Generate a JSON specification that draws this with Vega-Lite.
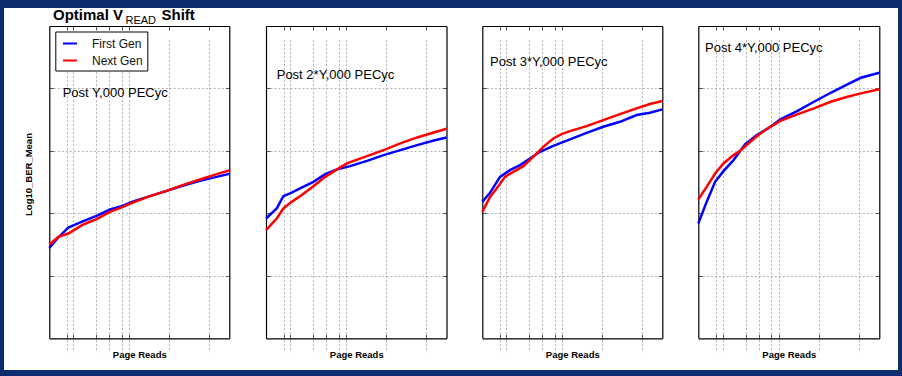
{
  "$schema": "https://vega.github.io/schema/vega-lite/v6.json",
  "background": "#0b2d70",
  "padding": {"left": 4, "top": 8, "right": 4, "bottom": 6},
  "spacing": 0,
  "config": {
    "view": {"fill": "#ffffff", "stroke": null},
    "font": "Liberation Sans",
    "legend": {"strokeColor": "#000000", "fillColor": "#ffffff", "strokeWidth": 1},
    "axis": {
      "labels": false,
      "domainColor": "#000000",
      "domainWidth": 1.2,
      "tickColor": "#555555",
      "tickSize": -4,
      "tickWidth": 1,
      "gridColor": "#b3b3b3",
      "gridDash": [2, 2],
      "gridWidth": 1,
      "minExtent": 0,
      "titleFont": "Liberation Sans",
      "titleFontWeight": "bold",
      "titleFontSize": 9.5,
      "titleColor": "#000000"
    }
  },
  "datasets": {
    "curves": [
      {"panel": 1, "series": "First Gen", "reads": 10, "ber": -5.553},
      {"panel": 1, "series": "First Gen", "reads": 16.8, "ber": -5.386},
      {"panel": 1, "series": "First Gen", "reads": 29.9, "ber": -5.226},
      {"panel": 1, "series": "First Gen", "reads": 70.8, "ber": -5.125},
      {"panel": 1, "series": "First Gen", "reads": 152, "ber": -5.04},
      {"panel": 1, "series": "First Gen", "reads": 329, "ber": -4.938},
      {"panel": 1, "series": "First Gen", "reads": 642, "ber": -4.885},
      {"panel": 1, "series": "First Gen", "reads": 1259, "ber": -4.809},
      {"panel": 1, "series": "First Gen", "reads": 3293, "ber": -4.724},
      {"panel": 1, "series": "First Gen", "reads": 8561, "ber": -4.639},
      {"panel": 1, "series": "First Gen", "reads": 22387, "ber": -4.553},
      {"panel": 1, "series": "First Gen", "reads": 58546, "ber": -4.479},
      {"panel": 1, "series": "First Gen", "reads": 152229, "ber": -4.415},
      {"panel": 1, "series": "First Gen", "reads": 316228, "ber": -4.367},
      {"panel": 1, "series": "Next Gen", "reads": 10, "ber": -5.498},
      {"panel": 1, "series": "Next Gen", "reads": 16.8, "ber": -5.377},
      {"panel": 1, "series": "Next Gen", "reads": 29.9, "ber": -5.322},
      {"panel": 1, "series": "Next Gen", "reads": 70.8, "ber": -5.178},
      {"panel": 1, "series": "Next Gen", "reads": 152, "ber": -5.093},
      {"panel": 1, "series": "Next Gen", "reads": 329, "ber": -4.976},
      {"panel": 1, "series": "Next Gen", "reads": 642, "ber": -4.905},
      {"panel": 1, "series": "Next Gen", "reads": 1259, "ber": -4.825},
      {"panel": 1, "series": "Next Gen", "reads": 3293, "ber": -4.724},
      {"panel": 1, "series": "Next Gen", "reads": 8561, "ber": -4.639},
      {"panel": 1, "series": "Next Gen", "reads": 22387, "ber": -4.543},
      {"panel": 1, "series": "Next Gen", "reads": 58546, "ber": -4.457},
      {"panel": 1, "series": "Next Gen", "reads": 152229, "ber": -4.372},
      {"panel": 1, "series": "Next Gen", "reads": 316228, "ber": -4.313},

      {"panel": 2, "series": "First Gen", "reads": 10, "ber": -5.082},
      {"panel": 2, "series": "First Gen", "reads": 18.5, "ber": -4.921},
      {"panel": 2, "series": "First Gen", "reads": 27.1, "ber": -4.724},
      {"panel": 2, "series": "First Gen", "reads": 39.8, "ber": -4.681},
      {"panel": 2, "series": "First Gen", "reads": 70.8, "ber": -4.601},
      {"panel": 2, "series": "First Gen", "reads": 152, "ber": -4.495},
      {"panel": 2, "series": "First Gen", "reads": 299, "ber": -4.372},
      {"panel": 2, "series": "First Gen", "reads": 586, "ber": -4.296},
      {"panel": 2, "series": "First Gen", "reads": 1259, "ber": -4.244},
      {"panel": 2, "series": "First Gen", "reads": 3293, "ber": -4.159},
      {"panel": 2, "series": "First Gen", "reads": 8561, "ber": -4.067},
      {"panel": 2, "series": "First Gen", "reads": 22387, "ber": -3.987},
      {"panel": 2, "series": "First Gen", "reads": 58546, "ber": -3.907},
      {"panel": 2, "series": "First Gen", "reads": 152229, "ber": -3.832},
      {"panel": 2, "series": "First Gen", "reads": 316228, "ber": -3.784},
      {"panel": 2, "series": "Next Gen", "reads": 10, "ber": -5.269},
      {"panel": 2, "series": "Next Gen", "reads": 18.5, "ber": -5.082},
      {"panel": 2, "series": "Next Gen", "reads": 27.1, "ber": -4.921},
      {"panel": 2, "series": "Next Gen", "reads": 39.8, "ber": -4.832},
      {"panel": 2, "series": "Next Gen", "reads": 70.8, "ber": -4.724},
      {"panel": 2, "series": "Next Gen", "reads": 152, "ber": -4.564},
      {"panel": 2, "series": "Next Gen", "reads": 299, "ber": -4.415},
      {"panel": 2, "series": "Next Gen", "reads": 586, "ber": -4.296},
      {"panel": 2, "series": "Next Gen", "reads": 1041, "ber": -4.2},
      {"panel": 2, "series": "Next Gen", "reads": 3293, "ber": -4.083},
      {"panel": 2, "series": "Next Gen", "reads": 8561, "ber": -3.987},
      {"panel": 2, "series": "Next Gen", "reads": 22387, "ber": -3.88},
      {"panel": 2, "series": "Next Gen", "reads": 58546, "ber": -3.784},
      {"panel": 2, "series": "Next Gen", "reads": 152229, "ber": -3.704},
      {"panel": 2, "series": "Next Gen", "reads": 316228, "ber": -3.646},

      {"panel": 3, "series": "First Gen", "reads": 10, "ber": -4.816},
      {"panel": 3, "series": "First Gen", "reads": 15.6, "ber": -4.671},
      {"panel": 3, "series": "First Gen", "reads": 27.7, "ber": -4.415},
      {"panel": 3, "series": "First Gen", "reads": 49.3, "ber": -4.308},
      {"panel": 3, "series": "First Gen", "reads": 87.6, "ber": -4.228},
      {"panel": 3, "series": "First Gen", "reads": 156, "ber": -4.12},
      {"panel": 3, "series": "First Gen", "reads": 277, "ber": -4.014},
      {"panel": 3, "series": "First Gen", "reads": 596, "ber": -3.918},
      {"panel": 3, "series": "First Gen", "reads": 1558, "ber": -3.816},
      {"panel": 3, "series": "First Gen", "reads": 4051, "ber": -3.71},
      {"panel": 3, "series": "First Gen", "reads": 10593, "ber": -3.614},
      {"panel": 3, "series": "First Gen", "reads": 27702, "ber": -3.534},
      {"panel": 3, "series": "First Gen", "reads": 72028, "ber": -3.426},
      {"panel": 3, "series": "First Gen", "reads": 155780, "ber": -3.389},
      {"panel": 3, "series": "First Gen", "reads": 316228, "ber": -3.335},
      {"panel": 3, "series": "Next Gen", "reads": 10, "ber": -4.976},
      {"panel": 3, "series": "Next Gen", "reads": 15.6, "ber": -4.736},
      {"panel": 3, "series": "Next Gen", "reads": 22.8, "ber": -4.601},
      {"panel": 3, "series": "Next Gen", "reads": 36.9, "ber": -4.415},
      {"panel": 3, "series": "Next Gen", "reads": 59.6, "ber": -4.335},
      {"panel": 3, "series": "Next Gen", "reads": 106, "ber": -4.244},
      {"panel": 3, "series": "Next Gen", "reads": 188, "ber": -4.095},
      {"panel": 3, "series": "Next Gen", "reads": 335, "ber": -3.934},
      {"panel": 3, "series": "Next Gen", "reads": 596, "ber": -3.8},
      {"panel": 3, "series": "Next Gen", "reads": 961, "ber": -3.731},
      {"panel": 3, "series": "Next Gen", "reads": 1558, "ber": -3.683},
      {"panel": 3, "series": "Next Gen", "reads": 4051, "ber": -3.603},
      {"panel": 3, "series": "Next Gen", "reads": 10593, "ber": -3.506},
      {"panel": 3, "series": "Next Gen", "reads": 27702, "ber": -3.41},
      {"panel": 3, "series": "Next Gen", "reads": 72028, "ber": -3.319},
      {"panel": 3, "series": "Next Gen", "reads": 155780, "ber": -3.25},
      {"panel": 3, "series": "Next Gen", "reads": 316228, "ber": -3.202},

      {"panel": 4, "series": "First Gen", "reads": 10, "ber": -5.162},
      {"panel": 4, "series": "First Gen", "reads": 16.1, "ber": -4.816},
      {"panel": 4, "series": "First Gen", "reads": 26.2, "ber": -4.495},
      {"panel": 4, "series": "First Gen", "reads": 42.2, "ber": -4.324},
      {"panel": 4, "series": "First Gen", "reads": 75, "ber": -4.147},
      {"panel": 4, "series": "First Gen", "reads": 147, "ber": -3.891},
      {"panel": 4, "series": "First Gen", "reads": 287, "ber": -3.747},
      {"panel": 4, "series": "First Gen", "reads": 620, "ber": -3.614},
      {"panel": 4, "series": "First Gen", "reads": 1103, "ber": -3.495},
      {"panel": 4, "series": "First Gen", "reads": 2868, "ber": -3.362},
      {"panel": 4, "series": "First Gen", "reads": 7499, "ber": -3.213},
      {"panel": 4, "series": "First Gen", "reads": 19613, "ber": -3.069},
      {"panel": 4, "series": "First Gen", "reads": 50993, "ber": -2.934},
      {"panel": 4, "series": "First Gen", "reads": 110300, "ber": -2.829},
      {"panel": 4, "series": "First Gen", "reads": 316228, "ber": -2.748},
      {"panel": 4, "series": "Next Gen", "reads": 10, "ber": -4.777},
      {"panel": 4, "series": "Next Gen", "reads": 16.1, "ber": -4.575},
      {"panel": 4, "series": "Next Gen", "reads": 26.2, "ber": -4.361},
      {"panel": 4, "series": "Next Gen", "reads": 42.2, "ber": -4.2},
      {"panel": 4, "series": "Next Gen", "reads": 75, "ber": -4.067},
      {"panel": 4, "series": "Next Gen", "reads": 110, "ber": -3.998},
      {"panel": 4, "series": "Next Gen", "reads": 196, "ber": -3.854},
      {"panel": 4, "series": "Next Gen", "reads": 349, "ber": -3.72},
      {"panel": 4, "series": "Next Gen", "reads": 620, "ber": -3.614},
      {"panel": 4, "series": "Next Gen", "reads": 1103, "ber": -3.518},
      {"panel": 4, "series": "Next Gen", "reads": 2868, "ber": -3.415},
      {"panel": 4, "series": "Next Gen", "reads": 7499, "ber": -3.319},
      {"panel": 4, "series": "Next Gen", "reads": 19613, "ber": -3.213},
      {"panel": 4, "series": "Next Gen", "reads": 50993, "ber": -3.133},
      {"panel": 4, "series": "Next Gen", "reads": 110300, "ber": -3.079},
      {"panel": 4, "series": "Next Gen", "reads": 316228, "ber": -3.014}
    ],
    "labels": [
      {"panel": 1, "label": "Post Y,000 PECyc", "reads": 21.6, "ber": -3.131},
      {"panel": 2, "label": "Post 2*Y,000 PECyc", "reads": 18.5, "ber": -2.843},
      {"panel": 3, "label": "Post 3*Y,000 PECyc", "reads": 15.6, "ber": -2.641},
      {"panel": 4, "label": "Post 4*Y,000 PECyc", "reads": 14.7, "ber": -2.417}
    ],
    "title": [
      {"part": "main", "text": "Optimal V", "reads": 12.4, "ber": -1.904},
      {"part": "main", "text": "Shift", "reads": 6383, "ber": -1.904},
      {"part": "sub", "text": "READ", "reads": 803, "ber": -1.968}
    ]
  },
  "hconcat": [
    {
      "width": 244,
      "height": 362,
      "layer": [
        {
          "data": {"name": "curves"},
          "transform": [{"filter": "datum.panel == 1"}],
          "mark": {"type": "line", "strokeWidth": 2.5},
          "encoding": {
            "x": {"field": "reads", "type": "quantitative",
              "scale": {"type": "log", "domain": [10, 316228], "range": [45.3, 225.3], "nice": false},
              "axis": {"orient": "bottom", "offset": -31.7, "grid": true, "values": [28, 40, 150, 316, 650, 1000, 10000, 100000], "title": "Page Reads", "titlePadding": 11}},
            "y": {"field": "ber", "type": "quantitative",
              "scale": {"domain": [-7, -2], "range": [330.3, 18], "nice": false, "zero": false},
              "axis": {"orient": "left", "offset": -45.3, "grid": true, "values": [-6, -5, -4, -3], "title": "Log10_BER_Mean", "titleX": -17.8, "titleY": 166, "titleAngle": -90, "titleBaseline": "alphabetic"}},
            "color": {"field": "series", "type": "nominal",
              "scale": {"domain": ["First Gen", "Next Gen"], "range": ["#0000ff", "#ff0000"]},
              "legend": {
                "orient": "none", "legendX": 51.3, "legendY": 23.5,
                "title": null, "strokeColor": "#000000", "fillColor": "#ffffff", "padding": 4,
                "symbolType": "stroke", "symbolSize": 196, "symbolStrokeWidth": 2, "symbolOffset": 2.7,
                "labelFont": "Liberation Sans", "labelFontSize": 12, "labelColor": "#111111", "labelOffset": 14, "rowPadding": 3
              }}
          }
        },
        {
          "data": {"name": "labels"},
          "transform": [{"filter": "datum.panel == 1"}],
          "mark": {"type": "text", "align": "left", "baseline": "alphabetic", "fontSize": 13, "color": "#000000"},
          "encoding": {
            "x": {"field": "reads", "type": "quantitative",
              "scale": {"type": "log", "domain": [10, 316228], "range": [45.3, 225.3], "nice": false},
              "axis": {"orient": "top", "offset": -18, "grid": false, "values": [28, 40, 150, 316, 650, 1000, 10000, 100000], "title": null}},
            "y": {"field": "ber", "type": "quantitative",
              "scale": {"domain": [-7, -2], "range": [330.3, 18], "nice": false, "zero": false},
              "axis": {"orient": "right", "offset": -18.7, "grid": false, "values": [-6, -5, -4, -3], "title": null}},
            "text": {"field": "label"}
          }
        },
        {
          "data": {"name": "title"},
          "transform": [{"filter": "datum.part == 'main'"}],
          "mark": {"type": "text", "align": "left", "baseline": "alphabetic", "fontSize": 15, "fontWeight": "bold", "color": "#000000"},
          "encoding": {
            "x": {"field": "reads", "type": "quantitative", "scale": {"type": "log", "domain": [10, 316228], "range": [45.3, 225.3], "nice": false}, "axis": null},
            "y": {"field": "ber", "type": "quantitative", "scale": {"domain": [-7, -2], "range": [330.3, 18], "nice": false, "zero": false}, "axis": null},
            "text": {"field": "text"}
          }
        },
        {
          "data": {"name": "title"},
          "transform": [{"filter": "datum.part == 'sub'"}],
          "mark": {"type": "text", "align": "left", "baseline": "alphabetic", "fontSize": 11, "color": "#000000"},
          "encoding": {
            "x": {"field": "reads", "type": "quantitative", "scale": {"type": "log", "domain": [10, 316228], "range": [45.3, 225.3], "nice": false}, "axis": null},
            "y": {"field": "ber", "type": "quantitative", "scale": {"domain": [-7, -2], "range": [330.3, 18], "nice": false, "zero": false}, "axis": null},
            "text": {"field": "text"}
          }
        }
      ],
      "resolve": {"axis": {"x": "independent", "y": "independent"}}
    },
    {
      "width": 216,
      "height": 362,
      "layer": [
        {
          "data": {"name": "curves"},
          "transform": [{"filter": "datum.panel == 2"}],
          "mark": {"type": "line", "strokeWidth": 2.5},
          "encoding": {
            "x": {"field": "reads", "type": "quantitative",
              "scale": {"type": "log", "domain": [10, 316228], "range": [18, 198.5], "nice": false},
              "axis": {"orient": "bottom", "offset": -31.7, "grid": true, "values": [28, 40, 150, 316, 650, 1000, 10000, 100000], "title": "Page Reads", "titlePadding": 11}},
            "y": {"field": "ber", "type": "quantitative",
              "scale": {"domain": [-7, -2], "range": [330.3, 18], "nice": false, "zero": false},
              "axis": {"orient": "left", "offset": -18, "grid": true, "values": [-6, -5, -4, -3], "title": null}},
            "color": {"field": "series", "type": "nominal",
              "scale": {"domain": ["First Gen", "Next Gen"], "range": ["#0000ff", "#ff0000"]}, "legend": null}
          }
        },
        {
          "data": {"name": "labels"},
          "transform": [{"filter": "datum.panel == 2"}],
          "mark": {"type": "text", "align": "left", "baseline": "alphabetic", "fontSize": 13, "color": "#000000"},
          "encoding": {
            "x": {"field": "reads", "type": "quantitative",
              "scale": {"type": "log", "domain": [10, 316228], "range": [18, 198.5], "nice": false},
              "axis": {"orient": "top", "offset": -18, "grid": false, "values": [28, 40, 150, 316, 650, 1000, 10000, 100000], "title": null}},
            "y": {"field": "ber", "type": "quantitative",
              "scale": {"domain": [-7, -2], "range": [330.3, 18], "nice": false, "zero": false},
              "axis": {"orient": "right", "offset": -17.5, "grid": false, "values": [-6, -5, -4, -3], "title": null}},
            "text": {"field": "label"}
          }
        }
      ],
      "resolve": {"axis": {"x": "independent", "y": "independent"}}
    },
    {
      "width": 216,
      "height": 362,
      "layer": [
        {
          "data": {"name": "curves"},
          "transform": [{"filter": "datum.panel == 3"}],
          "mark": {"type": "line", "strokeWidth": 2.5},
          "encoding": {
            "x": {"field": "reads", "type": "quantitative",
              "scale": {"type": "log", "domain": [10, 316228], "range": [18.3, 198.3], "nice": false},
              "axis": {"orient": "bottom", "offset": -31.7, "grid": true, "values": [28, 40, 150, 316, 650, 1000, 10000, 100000], "title": "Page Reads", "titlePadding": 11}},
            "y": {"field": "ber", "type": "quantitative",
              "scale": {"domain": [-7, -2], "range": [330.3, 18], "nice": false, "zero": false},
              "axis": {"orient": "left", "offset": -18.3, "grid": true, "values": [-6, -5, -4, -3], "title": null}},
            "color": {"field": "series", "type": "nominal",
              "scale": {"domain": ["First Gen", "Next Gen"], "range": ["#0000ff", "#ff0000"]}, "legend": null}
          }
        },
        {
          "data": {"name": "labels"},
          "transform": [{"filter": "datum.panel == 3"}],
          "mark": {"type": "text", "align": "left", "baseline": "alphabetic", "fontSize": 13, "color": "#000000"},
          "encoding": {
            "x": {"field": "reads", "type": "quantitative",
              "scale": {"type": "log", "domain": [10, 316228], "range": [18.3, 198.3], "nice": false},
              "axis": {"orient": "top", "offset": -18, "grid": false, "values": [28, 40, 150, 316, 650, 1000, 10000, 100000], "title": null}},
            "y": {"field": "ber", "type": "quantitative",
              "scale": {"domain": [-7, -2], "range": [330.3, 18], "nice": false, "zero": false},
              "axis": {"orient": "right", "offset": -17.7, "grid": false, "values": [-6, -5, -4, -3], "title": null}},
            "text": {"field": "label"}
          }
        }
      ],
      "resolve": {"axis": {"x": "independent", "y": "independent"}}
    },
    {
      "width": 218,
      "height": 362,
      "layer": [
        {
          "data": {"name": "curves"},
          "transform": [{"filter": "datum.panel == 4"}],
          "mark": {"type": "line", "strokeWidth": 2.5},
          "encoding": {
            "x": {"field": "reads", "type": "quantitative",
              "scale": {"type": "log", "domain": [10, 316228], "range": [18.3, 199.3], "nice": false},
              "axis": {"orient": "bottom", "offset": -31.7, "grid": true, "values": [28, 40, 150, 316, 650, 1000, 10000, 100000], "title": "Page Reads", "titlePadding": 11}},
            "y": {"field": "ber", "type": "quantitative",
              "scale": {"domain": [-7, -2], "range": [330.3, 18], "nice": false, "zero": false},
              "axis": {"orient": "left", "offset": -18.3, "grid": true, "values": [-6, -5, -4, -3], "title": null}},
            "color": {"field": "series", "type": "nominal",
              "scale": {"domain": ["First Gen", "Next Gen"], "range": ["#0000ff", "#ff0000"]}, "legend": null}
          }
        },
        {
          "data": {"name": "labels"},
          "transform": [{"filter": "datum.panel == 4"}],
          "mark": {"type": "text", "align": "left", "baseline": "alphabetic", "fontSize": 13, "color": "#000000"},
          "encoding": {
            "x": {"field": "reads", "type": "quantitative",
              "scale": {"type": "log", "domain": [10, 316228], "range": [18.3, 199.3], "nice": false},
              "axis": {"orient": "top", "offset": -18, "grid": false, "values": [28, 40, 150, 316, 650, 1000, 10000, 100000], "title": null}},
            "y": {"field": "ber", "type": "quantitative",
              "scale": {"domain": [-7, -2], "range": [330.3, 18], "nice": false, "zero": false},
              "axis": {"orient": "right", "offset": -18.7, "grid": false, "values": [-6, -5, -4, -3], "title": null}},
            "text": {"field": "label"}
          }
        }
      ],
      "resolve": {"axis": {"x": "independent", "y": "independent"}}
    }
  ]
}
